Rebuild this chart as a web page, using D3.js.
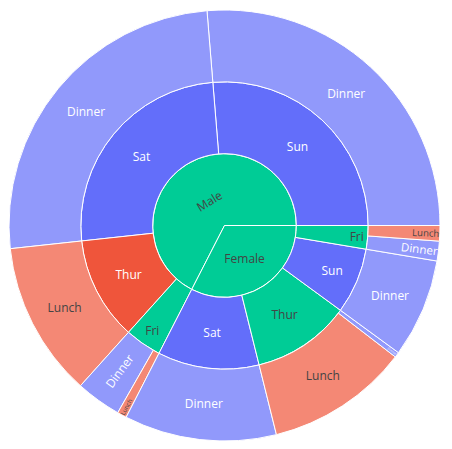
<!DOCTYPE html>
<html>
<head>
<meta charset="utf-8">
<script src="https://cdn.jsdelivr.net/npm/d3@7"></script>
<style>html,body{margin:0;padding:0;background:#fff;}</style>
</head>
<body>
<svg id="c" width="452" height="449"></svg>
<script>
// Leaves of the sunburst: sex -> day -> time, value = sum of total_bill
const leafSex   = ["Male","Male","Male","Male","Male","Female","Female","Female","Female","Female","Female"];
const leafDay   = ["Sun","Sat","Thur","Fri","Fri","Sat","Thur","Thur","Sun","Fri","Fri"];
const leafTime  = ["Dinner","Dinner","Lunch","Dinner","Lunch","Dinner","Lunch","Dinner","Dinner","Dinner","Lunch"];
const leafValue = [1269.46,1227.35,561.44,164.41,34.16,551.05,516.11,18.78,357.70,71.55,55.76];

const colorKeys   = ["Dinner","Lunch","(?)"];
const colorValues = ["#636efa","#EF553B","#00cc96"];

// ---- build hierarchy
const rootData = {name:"", children:[]};
leafValue.forEach((v,i)=>{
  let s = rootData.children.find(c=>c.name===leafSex[i]);
  if(!s){ s={name:leafSex[i], children:[]}; rootData.children.push(s); }
  let d = s.children.find(c=>c.name===leafDay[i]);
  if(!d){ d={name:leafDay[i], children:[]}; s.children.push(d); }
  d.children.push({name:leafTime[i], time:leafTime[i], value:v});
});
const root = d3.hierarchy(rootData).sum(d=>d.value||0).sort((a,b)=>b.value-a.value);
d3.partition().size([2*Math.PI, 4])(root);

const cx=224.5, cy=225.5, R=215.5;
const rScale = d3.scaleLinear().domain([1,4]).range([0,R]);
const colorScale = d3.scaleOrdinal().domain(colorKeys).range(colorValues);

function keyOf(d){
  const t = new Set(d.leaves().map(l=>l.data.time));
  return t.size===1 ? [...t][0] : "(?)";
}
function textColor(d){
  const k = keyOf(d);
  if(k==="(?)") return "#444";
  if(k==="Lunch" && !d.children) return "#444";
  return "#fff";
}

const arc = d3.arc()
  .startAngle(d=>Math.PI/2 - d.x1)
  .endAngle(d=>Math.PI/2 - d.x0)
  .innerRadius(d=>rScale(d.y0))
  .outerRadius(d=>rScale(d.y1));

const nodes = root.descendants().filter(d=>d.depth>0);
const svg = d3.select("#c");
const g = svg.append("g").attr("transform",`translate(${cx},${cy})`);

g.selectAll("path").data(nodes).join("path")
  .attr("d",arc)
  .attr("fill",d=>colorScale(keyOf(d)))
  .attr("fill-opacity",d=>d.children?1:0.7)
  .attr("stroke","#fff")
  .attr("stroke-width",1);

// ---- text placement (inside text, auto orientation)
const TEXTPAD=3, TEXT_H=16.6;
function maxHalf(a, half, r, ring){
  const q = a + 1/(2*Math.tan(half));
  return r*Math.min(1/(Math.sqrt(q*q+0.5)+q), ring/(Math.sqrt(a*a+ring/2)+a));
}
function rot(theta){
  const deg = -theta*180/Math.PI;
  return (((deg % 180) + 180 + 90) % 180) - 90;
}

g.selectAll("text.lbl").data(nodes).join("text")
  .attr("class","lbl")
  .attr("font-family","'Open Sans', sans-serif")
  .attr("font-size",12)
  .attr("fill",textColor)
  .attr("text-anchor","middle")
  .text(d=>d.data.name)
  .each(function(d){
    const bb = this.getBBox();
    const w=bb.width, h=TEXT_H;
    const rpx0=rScale(d.y0), rpx1=rScale(d.y1);
    const span=d.x1-d.x0;
    const delta=Math.atan2(Math.sin(span),Math.cos(span));
    const half=0.5*Math.min(delta||Math.PI, Math.PI);
    const ring=1-rpx0/rpx1;
    const rIns=Math.max(0, Math.min(1/(1+1/Math.sin(half)), ring/2));
    const mid=(d.x0+d.x1)/2;
    const hor={scale:rIns*rpx1*2/Math.hypot(w,h), rCenter:1-rIns, rotate:0};
    let t;
    if(hor.scale>=1){ t=hor; }
    else {
      const rr=Math.max(0,rpx1-2*TEXTPAD);
      const aR=w/h, sR=maxHalf(aR,half,rr,ring);
      const rad={scale:2*sR/h, rCenter:Math.cos(sR/rr)-aR*sR/rr, rotate:rot(mid)};
      const aT=h/w, sT=maxHalf(aT,half,rr,ring);
      const tan={scale:2*sT/w, rCenter:Math.cos(sT/rr)-aT*sT/rr, rotate:rot(mid+Math.PI/2)};
      t=[hor,rad,tan].reduce((b,c)=>c.scale>b.scale?c:b);
    }
    const s=Math.max(0,Math.min(1,t.scale));
    const x=rpx1*t.rCenter*Math.cos(mid), y=-rpx1*t.rCenter*Math.sin(mid);
    d3.select(this).attr("transform",
      `translate(${x},${y}) rotate(${t.rotate}) scale(${s}) translate(${-(bb.x+bb.width/2)},${-(bb.y+bb.height/2)})`);
  });
</script>
</body>
</html>
